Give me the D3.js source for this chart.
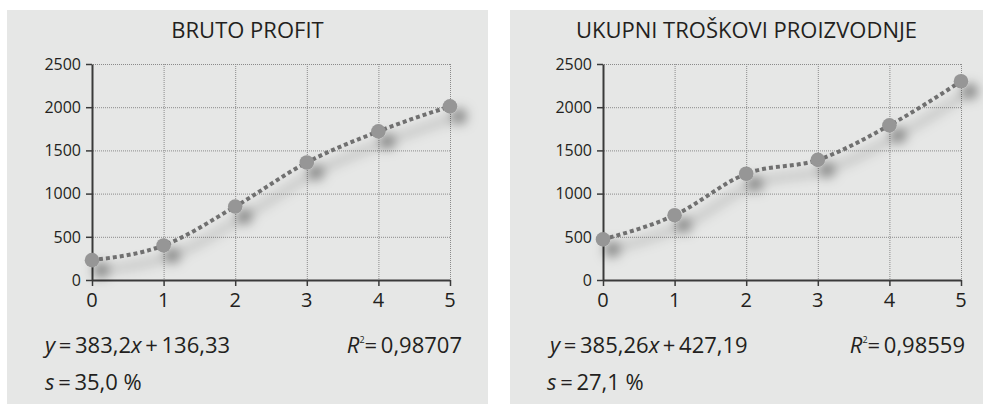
<!DOCTYPE html>
<html>
<head>
<meta charset="utf-8">
<script src="https://cdn.jsdelivr.net/npm/d3@7"></script>
<style>
  body { margin: 0; background: #fff; }
  svg { display: block; }
  text { font-family: "Open Sans", "Noto Sans", sans-serif; fill: #231f20; }
  .grid line { stroke: #8a8a8a; stroke-width: 1; stroke-dasharray: 1,1; }
  .grid path { display: none; }
</style>
</head>
<body>
<svg id="chart" width="983" height="404"></svg>
<script>
// data
var years = [0, 1, 2, 3, 4, 5];
var brutoProfit = [230, 400, 850, 1360, 1720, 2010];
var troskovi = [470, 750, 1230, 1390, 1790, 2300];
var yTicks = [0, 500, 1000, 1500, 2000, 2500];
var titles = ["BRUTO PROFIT", "UKUPNI TROŠKOVI PROIZVODNJE"];
var slopes = ["383,2", "385,26"];
var intercepts = ["136,33", "427,19"];
var rSquared = ["0,98707", "0,98559"];
var sValues = ["35,0", "27,1"];

var svg = d3.select("#chart");
var thin = "\u2009";

var defs = svg.append("defs");
var shadow = defs.append("filter").attr("id", "shadow")
    .attr("x", "-20%").attr("y", "-30%").attr("width", "150%").attr("height", "180%");
shadow.append("feDropShadow")
    .attr("dx", 9).attr("dy", 10)
    .attr("stdDeviation", 6)
    .attr("flood-color", "#000")
    .attr("flood-opacity", 0.5);

// panel layout
var panels = [
    {bx: 7, bw: 481, x0: 92, x1: 450, eqX: 45, rX: 462, sX: 45, series: brutoProfit},
    {bx: 510, bw: 473, x0: 603, x1: 961, eqX: 550, rX: 965, sX: 547, series: troskovi}
];

panels.forEach(function(p, i){
    var g = svg.append("g");

    g.append("rect")
	.attr("x", p.bx).attr("y", 10)
	.attr("width", p.bw).attr("height", 394)
	.attr("fill", "#e6e7e6");

    g.append("text")
	.attr("x", p.bx + p.bw / 2).attr("y", 38)
	.attr("text-anchor", "middle")
	.style("font-size", "22px")
	.text(titles[i]);

    var x = d3.scaleLinear().domain([0, 5]).range([p.x0, p.x1]);
    var y = d3.scaleLinear().domain([0, 2500]).range([280, 64]);

    // grid
    g.append("g").attr("class", "grid")
	.attr("transform", "translate(0,64)")
	.call(d3.axisTop(x).tickValues(years.slice(1)).tickSize(-216).tickFormat(""));
    g.append("g").attr("class", "grid")
	.attr("transform", "translate(" + p.x1 + ",0)")
	.call(d3.axisRight(y).tickValues(yTicks.slice(1)).tickSize(-(p.x1 - p.x0)).tickFormat(""));

    // axes (lines only, labels drawn below)
    var xAxis = g.append("g")
	.attr("transform", "translate(0,280)")
	.call(d3.axisBottom(x).tickValues(years).tickFormat("").tickSize(6).tickSizeOuter(0));
    var yAxis = g.append("g")
	.attr("transform", "translate(" + p.x0 + ",0)")
	.call(d3.axisLeft(y).tickValues(yTicks).tickFormat("").tickSize(6).tickSizeOuter(0));

    [xAxis, yAxis].forEach(function(a){
	a.select(".domain").attr("stroke", "#3a3a3a").attr("stroke-width", 2);
	a.selectAll(".tick line").attr("stroke", "#3a3a3a").attr("stroke-width", 1.5);
    });

    g.selectAll(".xlab")
	.data(years)
	.enter().append("text")
	.attr("class", "xlab")
	.attr("x", d => x(d))
	.attr("y", 307)
	.attr("text-anchor", "middle")
	.style("font-size", "20px")
	.text(d => d);

    g.selectAll(".ylab")
	.data(yTicks)
	.enter().append("text")
	.attr("class", "ylab")
	.attr("x", p.x0 - 11)
	.attr("y", d => y(d))
	.attr("dy", "0.36em")
	.attr("text-anchor", "end")
	.style("font-size", "16px")
	.text(d => d);

    // series
    var pts = years.map(function(d, j){ return [d, p.series[j]]; });
    var marks = g.append("g").attr("filter", "url(#shadow)");
    marks.append("path")
	.datum(pts)
	.attr("fill", "none")
	.attr("stroke", "#707070")
	.attr("stroke-width", 4)
	.attr("stroke-dasharray", "4,3")
	.attr("d", d3.line().x(d => x(d[0])).y(d => y(d[1])).curve(d3.curveMonotoneX));
    marks.selectAll("circle")
	.data(pts)
	.enter().append("circle")
	.attr("cx", d => x(d[0]))
	.attr("cy", d => y(d[1]))
	.attr("r", 7.3)
	.attr("fill", "#969696");

    // equation
    var eq = g.append("text").attr("x", p.eqX).attr("y", 353).style("font-size", "22px");
    eq.append("tspan").attr("font-style", "italic").text("y");
    eq.append("tspan").text(thin + "=" + thin + slopes[i]);
    eq.append("tspan").attr("font-style", "italic").text("x");
    eq.append("tspan").text(thin + "+" + thin + intercepts[i]);

    var r2 = g.append("text").attr("x", p.rX).attr("y", 353)
	.style("font-size", "22px").attr("text-anchor", "end");
    r2.append("tspan").attr("font-style", "italic").text("R");
    r2.append("tspan").style("font-size", "9px").attr("dy", -10).text("2");
    r2.append("tspan").attr("dy", 10).text("=" + thin + rSquared[i]);

    var s = g.append("text").attr("x", p.sX).attr("y", 390).style("font-size", "22px");
    s.append("tspan").attr("font-style", "italic").text("s");
    s.append("tspan").text(thin + "=" + thin + sValues[i] + " %");
});
</script>
</body>
</html>
